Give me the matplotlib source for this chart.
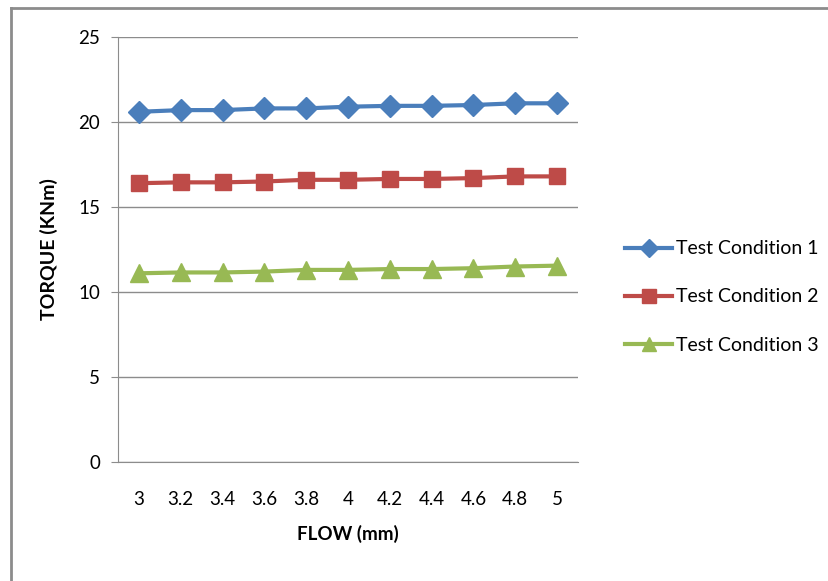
import matplotlib.pyplot as plt
from matplotlib.lines import Line2D

# ── data ─────────────────────────────────────────────────────────────────────
flow = ["3", "3.2", "3.4", "3.6", "3.8", "4", "4.2", "4.4", "4.6", "4.8", "5"]
cond1 = [20.6, 20.7, 20.7, 20.8, 20.8, 20.9, 20.95, 20.95, 21.0, 21.1, 21.1]
cond2 = [16.4, 16.45, 16.45, 16.5, 16.6, 16.6, 16.65, 16.65, 16.7, 16.8, 16.8]
cond3 = [11.1, 11.15, 11.15, 11.2, 11.3, 11.3, 11.35, 11.35, 11.4, 11.5, 11.55]
labels = ["Test Condition 1", "Test Condition 2", "Test Condition 3"]

plt.rcParams["font.family"] = ["Lato", "DejaVu Sans"]

fig = plt.figure(figsize=(8.29, 5.81), dpi=100)
ax = fig.add_axes([118 / 829, 1 - 462 / 581, 460 / 829, 425 / 581])

x = range(len(flow))
styles = [("#4A7EBB", "D", 11), ("#BE4B48", "s", 12), ("#98B954", "^", 13)]
for ys, lab, (c, m, ms) in zip([cond1, cond2, cond3], labels, styles):
    ax.plot(x, ys, color=c, marker=m, markersize=ms, linewidth=3, label=lab)

ax.set_xlim(-0.5, len(flow) - 0.5)
ax.set_ylim(0, 25)
ax.set_yticks(range(0, 26, 5))
ax.set_xticks(list(x))
ax.set_xticklabels(flow)
ax.yaxis.grid(True, color="#8c8c8c", linewidth=1)
ax.set_axisbelow(True)
for s in ["top", "right"]:
    ax.spines[s].set_visible(False)
ax.spines["left"].set_color("#8c8c8c")
ax.spines["bottom"].set_color("#8c8c8c")
ax.tick_params(axis="y", length=5, color="#8c8c8c", labelsize=13.5, pad=8)
ax.tick_params(axis="x", length=0, labelsize=13.5, pad=21)

ax.set_xlabel("FLOW (mm)", fontsize=13.5, fontweight="bold", labelpad=12)
ax.set_ylabel("TORQUE (KNm)", fontsize=14, fontweight="bold", labelpad=14)

ax.legend(loc="center left", bbox_to_anchor=(608 / 829, 1 - 297 / 581),
          bbox_transform=fig.transFigure, frameon=False, fontsize=14,
          handlelength=2.4, handletextpad=0.2, labelspacing=1.6, markerscale=0.8)

# outer chart frame
fig.add_artist(Line2D([11 / 829, 11 / 829], [0, 1 - 8 / 581], color="#8c8c8c", linewidth=2))
fig.add_artist(Line2D([11 / 829, 1], [1 - 8 / 581, 1 - 8 / 581], color="#8c8c8c", linewidth=2))

plt.savefig("out.png", dpi=100)
plt.close()
